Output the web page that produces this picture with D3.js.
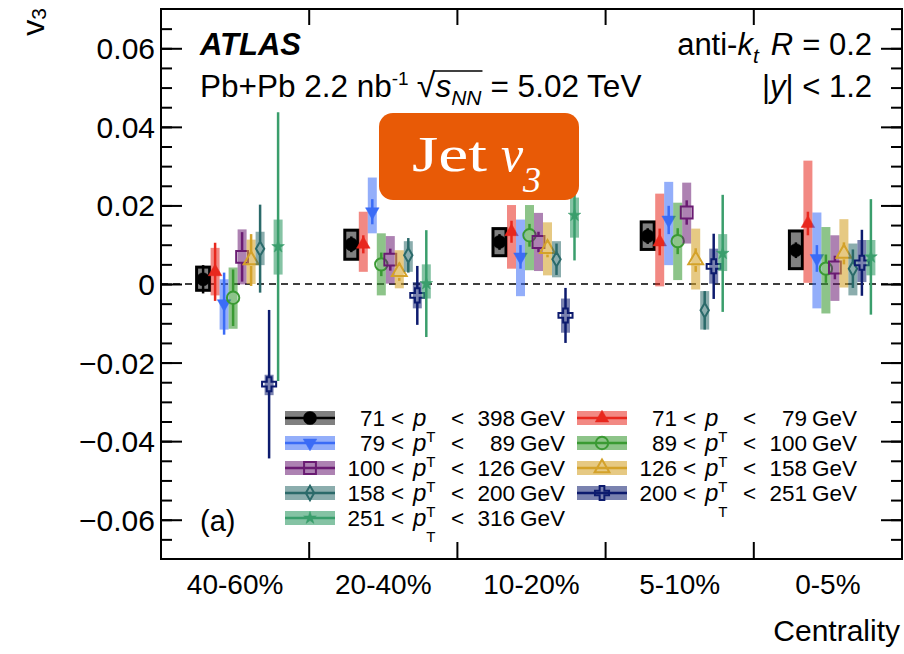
<!DOCTYPE html>
<html>
<head>
<meta charset="utf-8">
<script src="https://cdn.jsdelivr.net/npm/d3@7"></script>
<style>
  body { margin: 0; background: #fff; }
  svg { display: block; }
  text { font-family: "Liberation Sans", Arial, Helvetica, sans-serif; fill: #000; white-space: pre; }
  text.serif { font-family: "Liberation Serif", "DejaVu Serif", serif; fill: #fff; }
</style>
</head>
<body>
<svg id="chart" width="904" height="654"></svg>
<script>
// Centrality classes along the x axis
const centralities = ["40-60%", "20-40%", "10-20%", "5-10%", "0-5%"];
const yMajorTicks = [-0.06, -0.04, -0.02, 0, 0.02, 0.04, 0.06];

// Jet v3 per centrality class: [v3, stat. error, syst. up, syst. down]
const pt71_398  = [[0.0012, 0.0036, 0.0031, 0.0028], [0.0101, 0.0020, 0.0036, 0.0038], [0.0107, 0.0020, 0.0034, 0.0035], [0.0122, 0.0020, 0.0036, 0.0034], [0.0086, 0.0020, 0.0049, 0.0047]];
const pt71_79   = [[0.0031, 0.0074, 0.0061, 0.0060], [0.0101, 0.0023, 0.0083, 0.0070], [0.0133, 0.0028, 0.0068, 0.0094], [0.0107, 0.0034, 0.0123, 0.0113], [0.0154, 0.0030, 0.0160, 0.0151]];
const pt79_89   = [[-0.0050, 0.0079, 0.0062, 0.0066], [0.0184, 0.0032, 0.0087, 0.0055], [0.0069, 0.0030, 0.0095, 0.0100], [0.0163, 0.0036, 0.0097, 0.0115], [0.0065, 0.0034, 0.0117, 0.0127]];
const pt89_100  = [[-0.0035, 0.0072, 0.0077, 0.0079], [0.0050, 0.0030, 0.0079, 0.0079], [0.0124, 0.0029, 0.0077, 0.0089], [0.0109, 0.0033, 0.0098, 0.0099], [0.0039, 0.0036, 0.0106, 0.0114]];
const pt100_126 = [[0.0069, 0.0063, 0.0070, 0.0070], [0.0062, 0.0028, 0.0060, 0.0061], [0.0107, 0.0026, 0.0074, 0.0074], [0.0182, 0.0031, 0.0076, 0.0079], [0.0042, 0.0030, 0.0082, 0.0085]];
const pt126_158 = [[0.0061, 0.0066, 0.0052, 0.0061], [0.0031, 0.0023, 0.0055, 0.0042], [0.0090, 0.0022, 0.0067, 0.0068], [0.0061, 0.0030, 0.0080, 0.0075], [0.0078, 0.0028, 0.0087, 0.0087]];
const pt158_200 = [[0.0090, 0.0112, 0.0043, 0.0042], [0.0073, 0.0044, 0.0036, 0.0042], [0.0063, 0.0040, 0.0046, 0.0046], [-0.0067, 0.0049, 0.0049, 0.0049], [0.0039, 0.0049, 0.0064, 0.0068]];
const pt200_251 = [[-0.0255, 0.0189, 0.0024, 0.0028], [-0.0029, 0.0075, 0.0034, 0.0033], [-0.0080, 0.0070, 0.0043, 0.0044], [0.0045, 0.0083, 0.0045, 0.0044], [0.0054, 0.0084, 0.0058, 0.0049]];
const pt251_316 = [[0.0095, 0.0342, 0.0069, 0.0071], [0.0001, 0.0136, 0.0049, 0.0038], [0.0175, 0.0115, 0.0045, 0.0057], [0.0078, 0.0149, 0.0049, 0.0045], [0.0069, 0.0147, 0.0043, 0.0047]];

// pT bin edges (GeV) used in the legend labels
const ptLow  = ["71", "71", "79", "89", "100", "126", "158", "200", "251"];
const ptHigh = ["398", "79", "89", "100", "126", "158", "200", "251", "316"];

// Series styling
const series = [
  { data: pt71_398,  line: "#000000", box: "#808080", marker: "circleFilled", inclusive: true },
  { data: pt71_79,   line: "#e8281e", box: "rgba(232,40,30,0.55)",  marker: "triUp" },
  { data: pt79_89,   line: "#3b6cf6", box: "rgba(59,108,246,0.55)", marker: "triDown" },
  { data: pt89_100,  line: "#3a9a33", box: "rgba(58,154,51,0.58)",  marker: "circleOpen" },
  { data: pt100_126, line: "#6a1b72", box: "rgba(106,27,114,0.55)", marker: "squareOpen" },
  { data: pt126_158, line: "#d4a22a", box: "rgba(212,162,42,0.58)", marker: "triOpen" },
  { data: pt158_200, line: "#2b6a6a", box: "rgba(43,106,106,0.55)", marker: "diamondOpen" },
  { data: pt200_251, line: "#0d1b6e", box: "rgba(13,27,110,0.55)",  marker: "crossOpen" },
  { data: pt251_316, line: "#3a9e6c", box: "rgba(58,158,108,0.62)", marker: "star" }
];

const markerDefs = {
  circleFilled: { type: d3.symbolCircle,   size: 135, fill: true,  gap: 0 },
  triUp:        { type: d3.symbolTriangle, size: 80,  fill: true,  gap: 0 },
  triDown:      { type: d3.symbolTriangle, size: 80,  fill: true,  gap: 0, rotate: 180 },
  circleOpen:   { type: d3.symbolCircle,   size: 120, fill: false, gap: 6 },
  squareOpen:   { type: d3.symbolSquare,   size: 140, fill: false, gap: 6 },
  triOpen:      { type: d3.symbolTriangle, size: 95,  fill: false, gap: 6 },
  diamondOpen:  { type: d3.symbolDiamond,  size: 60,  fill: false, gap: 7 },
  crossOpen:    { type: d3.symbolCross,    size: 110, fill: false, gap: 7 },
  star:         { type: d3.symbolStar,     size: 50,  fill: true,  gap: 0 }
};

const svg = d3.select("#chart");
const frame = { left: 161, right: 902, top: 9, bottom: 559 };

const x = d3.scaleBand().domain(centralities).range([frame.left, frame.right]);
const y = d3.scaleLinear().domain([-0.07, 0.07]).range([frame.bottom, frame.top]);
// horizontal offset of each pT bin inside a centrality class
const xOffset = d3.scalePoint().domain(d3.range(1, series.length)).range([-20, 43]);
const offsetOf = i => (i === 0 ? -32 : xOffset(i));

// ---- axes ----
const minorTicks = d3.range(-0.065, 0.0651, 0.005).map(v => +v.toFixed(3));
const fmt = v => (v === 0 ? "0" : d3.format(".2f")(v));

const yLeft = svg.append("g").attr("transform", `translate(${frame.left},0)`)
  .call(d3.axisLeft(y).tickValues(yMajorTicks).tickFormat(fmt).tickSizeInner(-21).tickSizeOuter(0).tickPadding(6));
yLeft.select(".domain").remove();
yLeft.selectAll("line").attr("stroke-width", 2);
yLeft.selectAll("text").attr("font-size", 30).attr("dy", "0.35em").attr("font-family", null);

svg.append("g").attr("transform", `translate(${frame.left},0)`)
  .call(d3.axisLeft(y).tickValues(minorTicks).tickFormat("").tickSizeInner(-11).tickSizeOuter(0))
  .call(g => g.select(".domain").remove())
  .selectAll("line").attr("stroke-width", 2);

svg.append("g").attr("transform", `translate(${frame.right},0)`)
  .call(d3.axisRight(y).tickValues(yMajorTicks).tickFormat("").tickSizeInner(-21).tickSizeOuter(0))
  .call(g => g.select(".domain").remove())
  .selectAll("line").attr("stroke-width", 2);
svg.append("g").attr("transform", `translate(${frame.right},0)`)
  .call(d3.axisRight(y).tickValues(minorTicks).tickFormat("").tickSizeInner(-11).tickSizeOuter(0))
  .call(g => g.select(".domain").remove())
  .selectAll("line").attr("stroke-width", 2);

// category labels
const xAxis = svg.append("g").attr("transform", `translate(0,${frame.bottom})`)
  .call(d3.axisBottom(x).tickSize(0).tickPadding(0));
xAxis.select(".domain").remove();
xAxis.selectAll("text").attr("font-size", 28).attr("dy", null).attr("y", 35).attr("font-family", null);

// boundary ticks between classes, top and bottom
const bounds = centralities.slice(1).map(c => x(c));
svg.append("g").selectAll("line").data(bounds).join("line")
  .attr("x1", d => d).attr("x2", d => d)
  .attr("y1", frame.bottom).attr("y2", frame.bottom - 17)
  .attr("stroke", "#000").attr("stroke-width", 2);
svg.append("g").selectAll("line").data(bounds).join("line")
  .attr("x1", d => d).attr("x2", d => d)
  .attr("y1", frame.top).attr("y2", frame.top + 16)
  .attr("stroke", "#000").attr("stroke-width", 2);

// zero reference line
svg.append("line")
  .attr("x1", frame.left).attr("x2", frame.right)
  .attr("y1", y(0)).attr("y2", y(0))
  .attr("stroke", "#000").attr("stroke-width", 1.5).attr("stroke-dasharray", "7,5");

// ---- data ----
const symbolPath = m => d3.symbol().type(markerDefs[m].type).size(markerDefs[m].size)();

function drawMarker(g, cx, cy, s) {
  const m = markerDefs[s.marker];
  g.append("path")
    .attr("d", symbolPath(s.marker))
    .attr("transform", `translate(${cx},${cy})` + (m.rotate ? ` rotate(${m.rotate})` : ""))
    .attr("fill", m.fill ? s.line : "none")
    .attr("stroke", s.line)
    .attr("stroke-width", m.fill ? 0.5 : 2);
}

const plot = svg.append("g");
series.forEach((s, i) => {
  const g = plot.append("g");
  const m = markerDefs[s.marker];
  s.data.forEach((d, ci) => {
    const [v, stat, sysUp, sysDn] = d;
    const cx = x(centralities[ci]) + x.bandwidth() / 2 + offsetOf(i);
    const cy = y(v);
    const w = s.inclusive ? 13 : 9;
    g.append("rect")
      .attr("x", cx - w / 2).attr("width", w)
      .attr("y", y(v + sysUp)).attr("height", y(v - sysDn) - y(v + sysUp))
      .attr("fill", s.box)
      .attr("stroke", s.inclusive ? "#000" : "none")
      .attr("stroke-width", s.inclusive ? 3 : 0);
    // statistical error bar, interrupted by open markers
    const segs = m.gap > 0
      ? [[y(v + stat), cy - m.gap], [cy + m.gap, y(v - stat)]]
      : [[y(v + stat), y(v - stat)]];
    segs.forEach(([a, b]) => {
      if (b > a) g.append("line").attr("x1", cx).attr("x2", cx).attr("y1", a).attr("y2", b)
        .attr("stroke", s.line).attr("stroke-width", 2.5);
    });
    drawMarker(g, cx, cy, s);
  });
});

// ---- legend ----
const legend = svg.append("g");
const legendFont = 22.5;
series.forEach((s, i) => {
  const col = i % 2, row = Math.floor(i / 2);
  const bx = col === 0 ? 285 : 577;
  const cy = 418 + row * 25;
  const base = cy + 8;
  const lg = legend.append("g");
  lg.append("rect").attr("x", bx).attr("y", cy - 7).attr("width", 50).attr("height", 14).attr("fill", s.box);
  lg.append("line").attr("x1", bx).attr("x2", bx + 50).attr("y1", cy).attr("y2", cy)
    .attr("stroke", s.line).attr("stroke-width", 2.5);
  drawMarker(lg, bx + 25, cy, s);

  const t = (tx, txt, anchor) => lg.append("text").attr("x", tx).attr("y", base)
    .attr("font-size", legendFont).attr("text-anchor", anchor || "start").text(txt);
  t(bx + 100, ptLow[i], "end");
  t(bx + 106, "<");
  const p = t(bx + 128, "p").attr("font-style", "italic").attr("font-size", 24);
  const pw = p.node().getComputedTextLength();
  lg.append("text").attr("x", bx + 128 + pw).attr("y", base + 16).attr("font-size", 15).text("T");
  t(bx + 166, "<");
  t(bx + 230, ptHigh[i], "end");
  t(bx + 235, "GeV");
});

// ---- annotations ----
// lays out a sequence of text runs left to right
function runs(g, x0, yb, parts, anchor) {
  const grp = g.append("g");
  let cx = x0;
  const nodes = [];
  parts.forEach(p => {
    cx += (p.dx || 0);
    const el = grp.append("text")
      .attr("x", cx).attr("y", yb + (p.dy || 0))
      .attr("font-size", p.size)
      .attr("font-style", p.italic ? "italic" : null)
      .attr("font-weight", p.bold ? "bold" : null)
      .text(p.t);
    const w = el.node().getComputedTextLength();
    nodes.push({ el, x: cx, w });
    cx += w;
  });
  if (anchor === "end") {
    const shift = x0 - cx;
    grp.attr("transform", `translate(${shift},0)`);
    nodes.forEach(n => n.x += shift);
    cx += shift;
  }
  return { end: cx, nodes };
}

const ann = svg.append("g");
runs(ann, 200, 55, [{ t: "ATLAS", size: 31, bold: true, italic: true }]);

const l2 = runs(ann, 200, 97, [
  { t: "Pb+Pb 2.2 nb", size: 31.5 },
  { t: "-1", size: 19, dy: -12 },
  { t: "\u221A", size: 34, dx: 8 },
  { t: "s", size: 31.5, italic: true },
  { t: "NN", size: 21, italic: true, dy: 8 },
  { t: "= 5.02 TeV", size: 31.5, dx: 9 }
]);
// overline of the square root
{
  const rootN = l2.nodes[2], nnN = l2.nodes[4];
  ann.append("line")
    .attr("x1", rootN.x + rootN.w - 2).attr("x2", nnN.x + nnN.w + 1)
    .attr("y1", 71).attr("y2", 71)
    .attr("stroke", "#000").attr("stroke-width", 1.6);
}

runs(ann, 872, 55, [
  { t: "anti-", size: 31 },
  { t: "k", size: 31, italic: true },
  { t: "t", size: 21, italic: true, dy: 8 },
  { t: "R", size: 31, italic: true, dx: 12 },
  { t: "= 0.2", size: 31, dx: 9 }
], "end");

runs(ann, 872, 97, [
  { t: "|", size: 31 },
  { t: "y", size: 31, italic: true },
  { t: "| < 1.2", size: 31 }
], "end");

ann.append("text").attr("x", 200).attr("y", 531).attr("font-size", 29).text("(a)");

// y-axis title
const yTitle = svg.append("text")
  .attr("transform", "translate(44,8) rotate(-90)")
  .attr("text-anchor", "end")
  .attr("font-size", 32);
yTitle.append("tspan").text("v");
yTitle.append("tspan").attr("font-size", 21).attr("dy", 2).text("3");

// x-axis title
svg.append("text").attr("x", 900).attr("y", 641).attr("text-anchor", "end")
  .attr("font-size", 30).text("Centrality");

// frame
svg.append("rect")
  .attr("x", frame.left).attr("y", frame.top)
  .attr("width", frame.right - frame.left).attr("height", frame.bottom - frame.top)
  .attr("fill", "none").attr("stroke", "#000").attr("stroke-width", 2);

// badge
const badge = svg.append("g");
badge.append("rect").attr("x", 379).attr("y", 113).attr("width", 200).attr("height", 87)
  .attr("rx", 14).attr("fill", "#e85a06");
badge.append("text").attr("class", "serif").attr("x", 412).attr("y", 171).attr("font-size", 50)
  .attr("textLength", 75).attr("lengthAdjust", "spacingAndGlyphs").text("Jet");
badge.append("text").attr("class", "serif").attr("x", 501).attr("y", 171).attr("font-size", 50)
  .attr("font-style", "italic").text("v");
badge.append("text").attr("class", "serif").attr("x", 523).attr("y", 192).attr("font-size", 36)
  .attr("font-style", "italic").text("3");
</script>
</body>
</html>
